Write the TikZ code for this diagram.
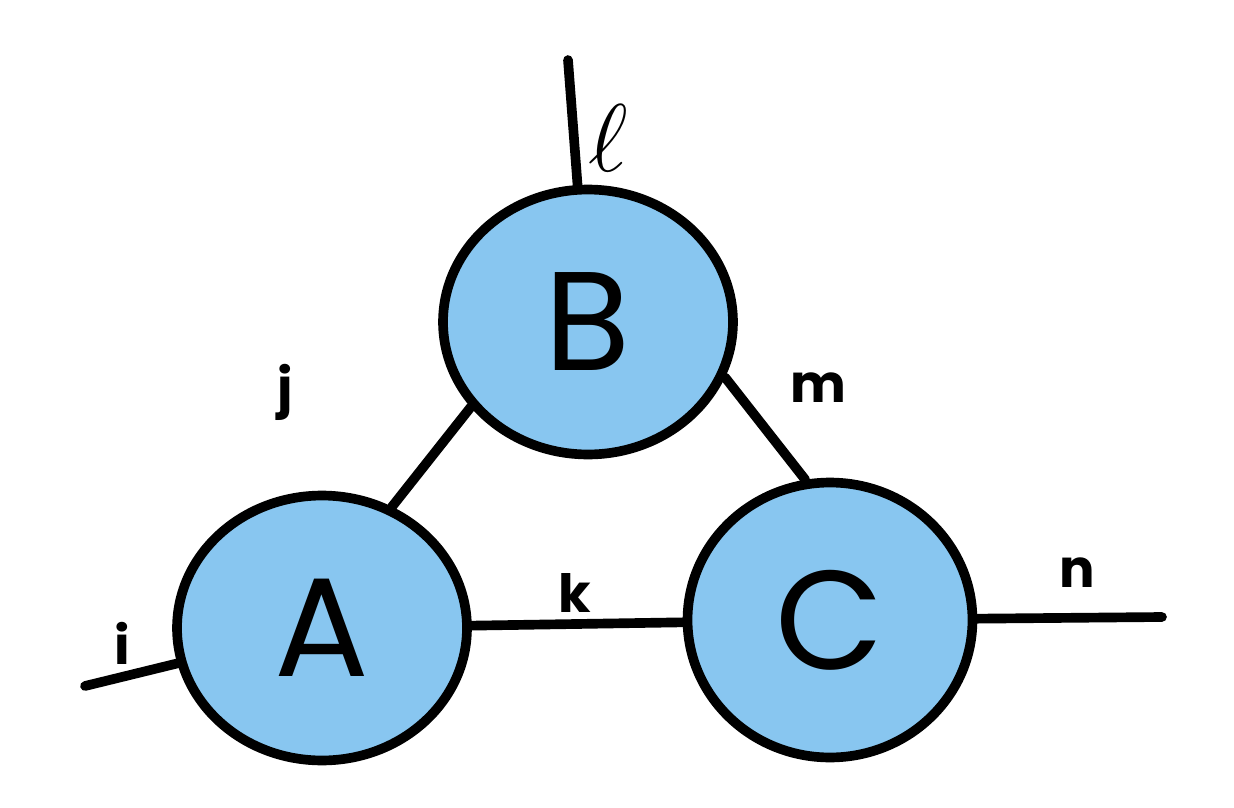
\documentclass[tikz,border=0pt]{standalone}
\usepackage{fontspec}
\setsansfont{Poppins}
\usetikzlibrary{shapes.geometric}
\definecolor{tensorblue}{RGB}{136,198,240}
\tikzset{
  tensor/.style={ellipse, draw=black, fill=tensorblue, line width=5.5pt, font=\sffamily\fontsize{80}{90}\selectfont},
  leg/.style={draw, line width=5.5pt, line cap=round},
  idx/.style={font=\sffamily\bfseries\fontsize{30}{34}\selectfont}
}
\begin{document}
\begin{tikzpicture}[x=0.02cm, y=-0.02cm]
    \useasboundingbox (0,0) rectangle (1234,808);
    % Nodes
    \node [tensor, minimum width=5.8cm, minimum height=5.3cm] (B) at (588,322) {B};
    \node [tensor, minimum width=5.8cm, minimum height=5.3cm] (A) at (322,628) {A};
    \node [tensor, minimum width=5.7cm, minimum height=5.5cm] (C) at (830,620) {C};
    \coordinate (lEnd) at (568,60);
    \coordinate (iEnd) at (85,686);
    \coordinate (nEnd) at (1162,617);

    % Legs
    \path [leg] (A.60) -- (B.216);
    \path [leg] (B.338) -- (C.100);
    \path [leg] (B) -- (lEnd);
    \path [leg] (A) -- (C);
    \path [leg] (A) -- (iEnd);
    \path [leg] (C) -- (nEnd);

    % Labels
    \node [idx] (lLab) at (608,138) {\scalebox{2.2}{$\ell$}};
    \node [idx] (jLab) at (285,392) {j};
    \node [idx] (mLab) at (818,388) {m};
    \node [idx] (kLab) at (575,593) {k};
    \node [idx] (iLab) at (122,643) {i};
    \node [idx] (nLab) at (1077,573) {n};
\end{tikzpicture}
\end{document}
